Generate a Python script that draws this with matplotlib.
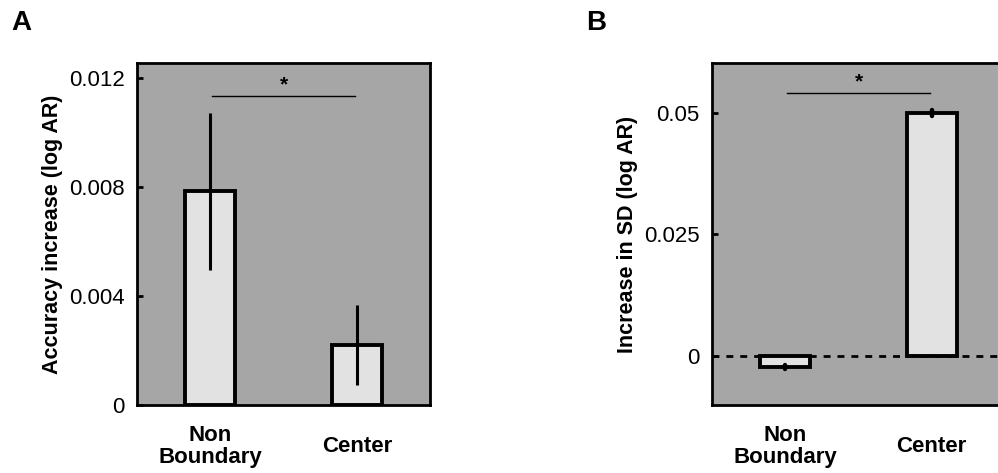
import matplotlib
matplotlib.use("Agg")
from matplotlib import pyplot as plt

plt.rcParams['font.family'] = ['Liberation Sans', 'DejaVu Sans']

# data
categories = ["Non\nBoundary", "Center"]
acc_values = [0.00785, 0.0022]
acc_err_low = [0.00495, 0.00073]
acc_err_high = [0.01072, 0.00367]
sd_values = [-0.0023, 0.050]
sd_err_low = [-0.0027, 0.0493]
sd_err_high = [-0.0019, 0.0506]
acc_ticks = [0, 0.004, 0.008, 0.012]
acc_ticklabels = ["0", "0.004", "0.008", "0.012"]
sd_ticks = [0, 0.025, 0.05]
sd_ticklabels = ["0", "0.025", "0.05"]

bg = '#a6a6a6'
barc = '#e2e2e2'

fig = plt.figure(figsize=(9.98, 4.73), dpi=100)
axA = fig.add_axes([0.1373, 0.1438, 0.2936, 0.7230])
axB = fig.add_axes([0.7134, 0.1438, 0.2936, 0.7230])


def draw_panel(ax, vals, lo, hi, ylim, ticks, ticklabels, ylabel, sig_y, zero_line):
    x = list(range(len(vals)))
    ax.set_facecolor(bg)
    if zero_line:
        ax.axhline(0, color='black', linestyle=(0, (2.5, 2.5)), linewidth=2.0, zorder=1)
    ax.bar(x, vals, width=0.34, color=barc, edgecolor='black', linewidth=2.8, zorder=2)
    ax.vlines(x, lo, hi, color='black', linewidth=2.2, zorder=3)
    if zero_line:
        # tiny error bars show up as dots
        ax.vlines(x, lo, hi, color='black', linewidth=3.2, capstyle='round', zorder=3)
    ax.set_xlim(-0.5, 1.5)
    ax.set_ylim(*ylim)
    ax.set_yticks(ticks)
    ax.set_yticklabels(ticklabels, fontsize=16)
    ax.tick_params(axis='y', direction='in', length=4, width=2, pad=9)
    ax.set_xticks([])
    for s in ax.spines.values():
        s.set_linewidth(2.0)
    ax.set_ylabel(ylabel, fontsize=15.5, fontweight='bold', labelpad=4)
    # significance bar
    ax.plot([x[0] + 0.01, x[1] - 0.01], [sig_y, sig_y], color='black', linewidth=1.0, zorder=3)
    ax.annotate('*', xy=((x[0] + x[1]) / 2, sig_y), xytext=(0, 1),
                textcoords='offset points', ha='center', va='bottom',
                fontsize=15, fontweight='bold')
    # category labels
    trans = ax.get_xaxis_transform()
    for xi, lab in zip(x, categories):
        ax.annotate(lab, xy=(xi, 0), xycoords=trans, xytext=(0, -30),
                    textcoords='offset points', ha='center', va='center',
                    fontsize=16, fontweight='bold', linespacing=1.05,
                    annotation_clip=False)


draw_panel(axA, acc_values, acc_err_low, acc_err_high, (0, 0.01255),
           acc_ticks, acc_ticklabels, "Accuracy increase (log AR)", 0.01134, False)
draw_panel(axB, sd_values, sd_err_low, sd_err_high, (-0.0101, 0.0603),
           sd_ticks, sd_ticklabels, "Increase in SD (log AR)", 0.0541, True)

fig.text(0.011, 0.952, "A", fontsize=20, fontweight='bold', va='center')
fig.text(0.587, 0.952, "B", fontsize=20, fontweight='bold', va='center')

fig.savefig("out.png", dpi=100)
